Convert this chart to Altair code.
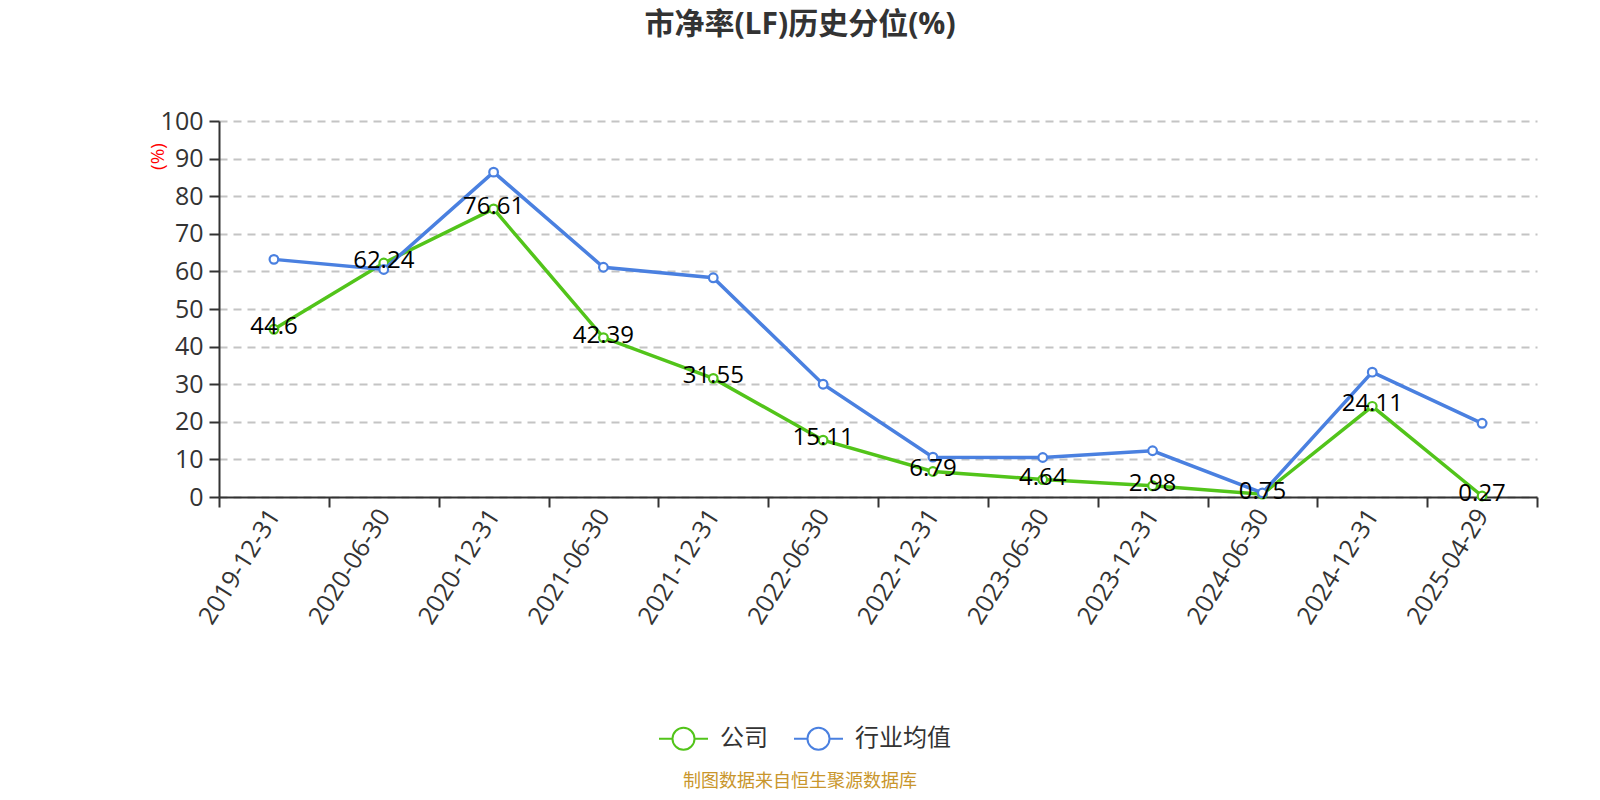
import altair as alt
import pandas as pd

dates = ["2019-12-31", "2020-06-30", "2020-12-31", "2021-06-30", "2021-12-31", "2022-06-30",
         "2022-12-31", "2023-06-30", "2023-12-31", "2024-06-30", "2024-12-31", "2025-04-29"]
company = [44.6, 62.24, 76.61, 42.39, 31.55, 15.11, 6.79, 4.64, 2.98, 0.75, 24.11, 0.27]
industry = [63.2, 60.5, 86.4, 61.1, 58.3, 30.0, 10.6, 10.5, 12.3, 1.1, 33.2, 19.6]
series_names = ["公司", "行业均值"]
colors = ["#52c41a", "#4a80e0"]
y_ticks = [0, 10, 20, 30, 40, 50, 60, 70, 80, 90, 100]
title_text = "市净率(LF)历史分位(%)"
y_title = "(%)"
footer = "制图数据来自恒生聚源数据库"

FONT = "Open Sans, Noto Sans CJK SC, sans-serif"

rows = []
for d, c, i in zip(dates, company, industry):
    rows.append({"date": d, "series": series_names[0], "value": c, "label": str(c)})
    rows.append({"date": d, "series": series_names[1], "value": i, "label": ""})
df = pd.DataFrame(rows)

legend_path = "M-1,0L-0.45,0M0.45,0L1,0M0.45,0A0.45,0.45,0,1,1,-0.45,0A0.45,0.45,0,1,1,0.45,0"

x_enc = alt.X(
    "date:O",
    sort=dates,
    title=None,
    scale=alt.Scale(type="band", paddingInner=0, paddingOuter=0),
    axis=alt.Axis(
        domainColor="#333", domainWidth=2, tickColor="#333", tickWidth=2, tickSize=10,
        tickBand="extent", labelAngle=302, labelAlign="right", labelBaseline="middle",
        labelFontSize=25, labelColor="#333", labelFont=FONT, labelPadding=4, grid=False,
    ),
)
y_enc = alt.Y(
    "value:Q",
    scale=alt.Scale(domain=[0, 100], nice=False, zero=True),
    axis=alt.Axis(
        values=y_ticks, domainColor="#333", domainWidth=2, tickColor="#333", tickWidth=2,
        tickSize=10, labelFontSize=25, labelColor="#333", labelFont=FONT, labelPadding=6,
        grid=True, gridColor="#c4c4c4", gridDash=[8, 6], gridWidth=2,
        title=y_title, titleColor="red", titleFontSize=19, titleFontWeight="normal",
        titleFont=FONT, titleAngle=270, titleX=-62, titleY=35, titleAlign="center",
        titleBaseline="middle",
    ),
)
color_enc = alt.Color(
    "series:N",
    scale=alt.Scale(domain=series_names, range=colors),
    legend=alt.Legend(
        orient="none", legendX=439, legendY=592, direction="horizontal", title=None,
        symbolType=legend_path, symbolSize=2401, symbolStrokeWidth=2,
        labelFontSize=24, labelColor="#333", labelFont=FONT, labelOffset=11,
        columnPadding=22, padding=0,
    ),
)

base = alt.Chart(df)

layers = []
for s in series_names:
    sub = base.transform_filter(alt.datum.series == s)
    layers.append(sub.mark_line(strokeWidth=3.5).encode(x=x_enc, y=y_enc, color=color_enc))
    layers.append(sub.mark_point(filled=False, fill="white", fillOpacity=1, size=75,
                                 strokeWidth=2.2, opacity=1).encode(x=x_enc, y=y_enc, color=color_enc))

labels = base.transform_filter(alt.datum.series == series_names[0]).mark_text(
    fontSize=24, font=FONT, color="black", align="center", baseline="middle", dy=-2
).encode(x=x_enc, y=y_enc, text="label:N")
layers.append(labels)

foot = alt.Chart(pd.DataFrame({"t": [footer]})).mark_text(
    fontSize=18, font=FONT, color="#c9962c", align="center", baseline="middle"
).encode(text="t:N", x=alt.value(581), y=alt.value(661))
layers.append(foot)

chart = alt.layer(*layers).properties(
    width=1318,
    height=376,
    background="white",
    autosize=alt.AutoSizeParams(type="none"),
    padding={"left": 211, "top": 113, "right": 55, "bottom": 295},
    title=alt.TitleParams(
        text=title_text, fontSize=30, fontWeight="bold", color="#333", font=FONT,
        anchor="middle", dx=-78, offset=69,
    ),
).configure_view(stroke=None)

chart.save("out.html", embed_options={"renderer": "svg", "actions": False})
